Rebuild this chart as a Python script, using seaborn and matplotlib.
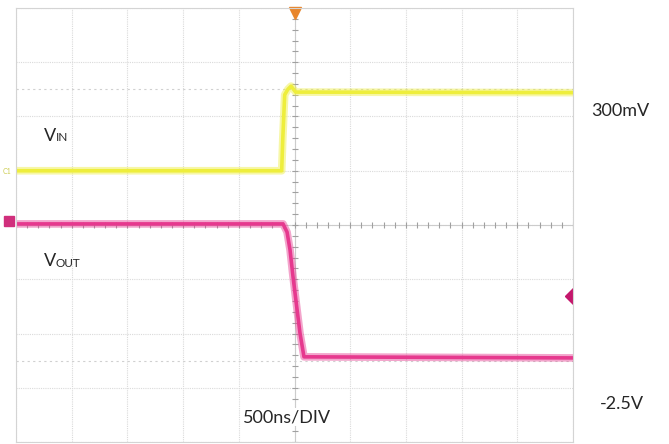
import numpy as np
import pandas as pd
import seaborn as sns
import matplotlib.pyplot as plt

# scope capture: time in ns (500ns/div), level in screen divisions
vin_t = [-2500, -115, -105, -88, -60, -31, 10, 2500]
vin_v = [1.0, 1.0, 1.6, 2.4, 2.5, 2.56, 2.45, 2.44]

vout_t = [-2500, -103, -67, -40, -13, 49, 85, 2500]
vout_v = [0.02, 0.02, -0.13, -0.46, -0.96, -1.99, -2.43, -2.45]

ch1_label = ("V", "IN")
ch2_label = ("V", "OUT")
scale_labels = ["300mV", "-2.5V"]
time_label = "500ns/DIV"

YELLOW = "#eeee3c"
PINK = "#e6398e"

sns.set_style("white")
plt.rcParams["font.family"] = ["Lato", "DejaVu Sans"]

W, H = 669, 444
fig = plt.figure(figsize=(W / 100, H / 100), dpi=100)
ax = fig.add_axes([16 / W, 2 / H, 557 / W, 434 / H])

vin = pd.DataFrame({"t": vin_t, "v": vin_v})
vout = pd.DataFrame({"t": vout_t, "v": vout_v})

# grid like the scope screen
ax.set_xlim(-2500, 2500)
ax.set_ylim(-4, 4)
ax.set_xticks(np.arange(-2500, 2501, 500))
ax.set_yticks(np.arange(-4, 5, 1))
ax.tick_params(length=0, labelbottom=False, labelleft=False)
ax.grid(True, color="#dadada", lw=0.8, ls=(0, (1, 1)))
for s in ax.spines.values():
    s.set_color("#d4d4d4")
    s.set_linewidth(0.8)
ax.axhline(2.5, color="#d0d0d0", lw=0.8, ls=(0, (2, 3)))
ax.axhline(-2.5, color="#d0d0d0", lw=0.8, ls=(0, (2, 3)))

# center crosshair with minor ticks
ax.axvline(0, color="#cccccc", lw=0.8)
ax.axhline(0, color="#cccccc", lw=0.8)
ax.plot(np.zeros(41), np.linspace(-4, 4, 41), ls="none", marker="_", ms=5,
        mew=0.8, color="#a0a0a0")
ax.plot(np.linspace(-2500, 2500, 51), np.zeros(51), ls="none", marker="|", ms=5,
        mew=0.8, color="#a0a0a0")

# traces: wide pale band + solid core
for df, c in [(vin, YELLOW), (vout, PINK)]:
    sns.lineplot(data=df, x="t", y="v", ax=ax, color=c, lw=5.5, alpha=0.45,
                 estimator=None, sort=False)
    sns.lineplot(data=df, x="t", y="v", ax=ax, color=c, lw=2.6,
                 estimator=None, sort=False)
ax.set_xlabel("")
ax.set_ylabel("")

# scope markers
ax.plot(0, 3.9, marker="v", ms=9, color="#e8862c", clip_on=False)
ax.plot(-2563, 0.07, marker="s", ms=7, color="#d02f7c", clip_on=False)
ax.plot(2500, -1.31, marker="D", ms=8, color="#c4176c", clip_on=True)


def px(x, y, s, **kw):
    return fig.text(x / W, 1 - y / H, s, va="baseline", ha="left", **kw)


px(3, 174, "C1", fontsize=5, color="#cccc50")

px(44, 141, ch1_label[0], fontsize=13)
px(56, 141, ch1_label[1], fontsize=8.5)
px(44, 266, ch2_label[0], fontsize=13)
px(56, 267, ch2_label[1], fontsize=8.5)

px(591, 116, scale_labels[0], fontsize=13)
px(600, 409, scale_labels[1], fontsize=13)
px(243, 422, time_label, fontsize=13,
   bbox=dict(facecolor="white", edgecolor="none", pad=1))

fig.savefig("out.png", dpi=100)
